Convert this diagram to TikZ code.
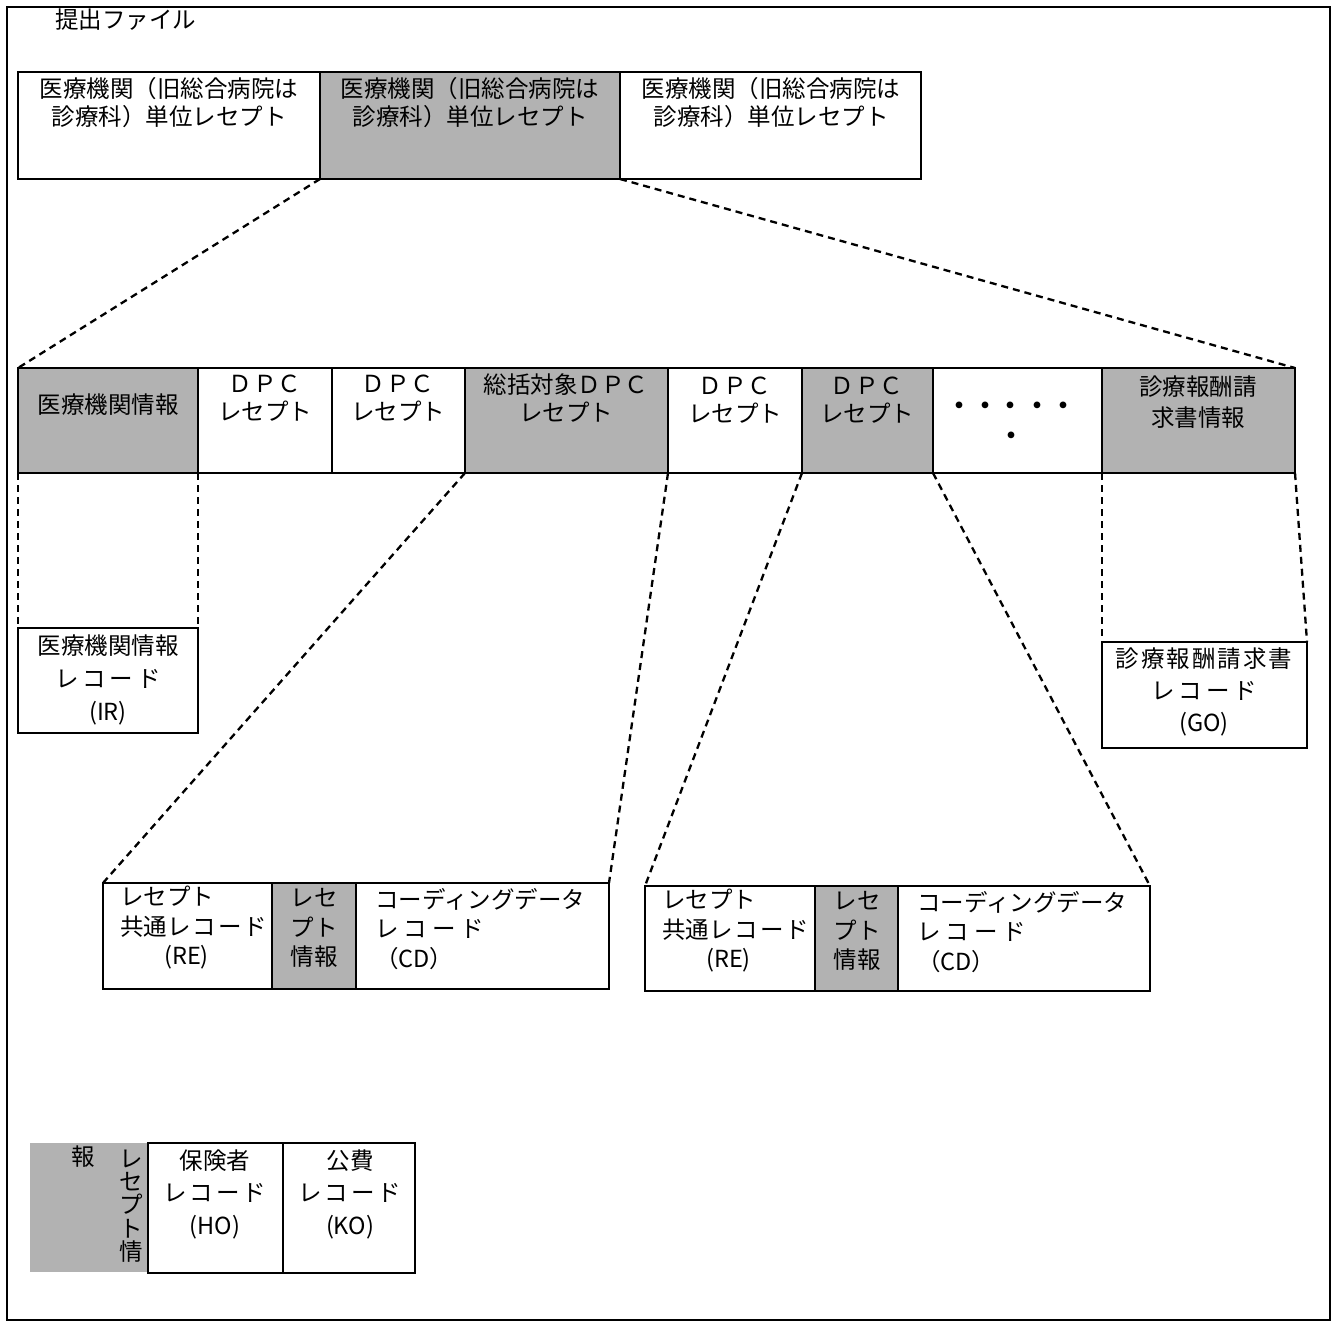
\documentclass[tikz,border=0pt]{standalone}
\usepackage{fontspec}
\newfontfamily\jp{Noto Sans CJK JP}
\definecolor{shade}{gray}{0.70}
\tikzset{
  box/.style={draw, line width=1.7pt, anchor=north west, inner sep=0pt, outer sep=0pt},
  shadebox/.style={box, fill=shade},
  txt/.style={font=\jp\fontsize{23.5}{28}\selectfont, align=center, inner sep=0pt},
  conn/.style={line width=2.3pt, dash pattern=on 7pt off 5pt},
}
\begin{document}
\begin{tikzpicture}[x=1pt,y=-1pt]
\useasboundingbox (0,0) rectangle (1333,1324);
\draw[line width=1.5pt] (7,7) rectangle (1330,1320);

\node[txt, anchor=west] (title) at (55,20) {提出ファイル};

% top row
\node[box, minimum width=302pt, minimum height=107pt] (t1) at (18,72) {};
\node[shadebox, minimum width=300pt, minimum height=107pt] (t2) at (320,72) {};
\node[box, minimum width=301pt, minimum height=107pt] (t3) at (620,72) {};
\node[txt] (tt1) at (169,103) {医療機関（旧総合病院は\\診療科）単位レセプト};
\node[txt] (tt2) at (470,103) {医療機関（旧総合病院は\\診療科）単位レセプト};
\node[txt] (tt3) at (771,103) {医療機関（旧総合病院は\\診療科）単位レセプト};

% second row
\node[shadebox, minimum width=180pt, minimum height=105pt] (r1) at (18,368) {};
\node[box, minimum width=134pt, minimum height=105pt] (r2) at (198,368) {};
\node[box, minimum width=133pt, minimum height=105pt] (r3) at (332,368) {};
\node[shadebox, minimum width=203pt, minimum height=105pt] (r4) at (465,368) {};
\node[box, minimum width=134pt, minimum height=105pt] (r5) at (668,368) {};
\node[shadebox, minimum width=131pt, minimum height=105pt] (r6) at (802,368) {};
\node[box, minimum width=169pt, minimum height=105pt] (r7) at (933,368) {};
\node[shadebox, minimum width=193pt, minimum height=105pt] (r8) at (1102,368) {};

\node[txt] (rt1) at (108,405) {医療機関情報};
\node[txt] (rt2) at (265,398) {Ｄ\kern1ptＰ\kern1ptＣ\\レセプト};
\node[txt] (rt3) at (398,398) {Ｄ\kern1ptＰ\kern1ptＣ\\レセプト};
\node[txt] (rt4) at (566,398) {総括対象ＤＰＣ\\レセプト};
\node[txt] (rt5) at (735,400) {Ｄ\kern1ptＰ\kern1ptＣ\\レセプト};
\node[txt] (rt6) at (867,400) {Ｄ\kern1ptＰ\kern1ptＣ\\レセプト};
\node[txt, font=\jp\bfseries\fontsize{24}{30}\selectfont] (rt7) at (1011,423) {・\kern2pt・\kern2pt・\kern2pt・\kern2pt・\\・};
\node[txt, font=\jp\fontsize{23.5}{31}\selectfont] (rt8) at (1198,402) {診療報酬請\\求書情報};

% record boxes
\node[box, minimum width=180pt, minimum height=105pt] (ir) at (18,628) {};
\node[txt, font=\jp\fontsize{23.5}{33}\selectfont] (irt) at (108,680) {医療機関情報\\レ\kern4ptコ\kern4ptー\kern4ptド\\(IR)};
\node[box, minimum width=205pt, minimum height=106pt] (go) at (1102,642) {};
\node[txt, font=\jp\fontsize{23.5}{32}\selectfont] (got) at (1204,692) {診\kern2pt療\kern2pt報\kern2pt酬\kern2pt請\kern2pt求\kern2pt書\\レ\kern4ptコ\kern4ptー\kern4ptド\\(GO)};

\node[box, minimum width=169pt, minimum height=106pt] (b1a) at (103,883) {};
\node[shadebox, minimum width=84pt, minimum height=106pt] (b1b) at (272,883) {};
\node[box, minimum width=253pt, minimum height=106pt] (b1c) at (356,883) {};
\node[txt, align=left, anchor=west, font=\jp\fontsize{23.5}{29.5}\selectfont] (b1at) at (120,928) {レセプト\\共通レ\kern2ptコ\kern2ptー\kern2ptド\\\hspace{44pt}(RE)};
\node[txt, font=\jp\fontsize{23.5}{29.5}\selectfont] (b1bt) at (314,928) {レセ\\プト\\情報};
\node[txt, align=left, anchor=west, font=\jp\fontsize{23.5}{29.5}\selectfont] (b1ct) at (375,929) {コーディングデータ\\レ\kern5ptコ\kern5ptー\kern5ptド\\（CD）};

\node[box, minimum width=170pt, minimum height=105pt] (b2a) at (645,886) {};
\node[shadebox, minimum width=83pt, minimum height=105pt] (b2b) at (815,886) {};
\node[box, minimum width=252pt, minimum height=105pt] (b2c) at (898,886) {};
\node[txt, align=left, anchor=west, font=\jp\fontsize{23.5}{29.5}\selectfont] (b2at) at (662,931) {レセプト\\共通レ\kern2ptコ\kern2ptー\kern2ptド\\\hspace{44pt}(RE)};
\node[txt, font=\jp\fontsize{23.5}{29.5}\selectfont] (b2bt) at (857,931) {レセ\\プト\\情報};
\node[txt, align=left, anchor=west, font=\jp\fontsize{23.5}{29.5}\selectfont] (b2ct) at (917,932) {コーディングデータ\\レ\kern5ptコ\kern5ptー\kern5ptド\\（CD）};

% bottom legend
\node[anchor=north west, fill=shade, inner sep=0pt, outer sep=0pt, minimum width=118pt, minimum height=129pt] (sh) at (30,1143) {};
\node[box, minimum width=135pt, minimum height=130pt] (ho) at (148,1143) {};
\node[box, minimum width=132pt, minimum height=130pt] (ko) at (283,1143) {};
\node[txt, font=\jp\fontsize{23.5}{23.3}\selectfont] (sht1) at (131,1206) {レ\\セ\\プ\\ト\\情};
\node[txt] (sht2) at (83,1157) {報};
\node[txt, font=\jp\fontsize{23.5}{32.5}\selectfont] (hot) at (215,1194) {保険者\\レ\kern3ptコ\kern3ptー\kern3ptド\\(HO)};
\node[txt, font=\jp\fontsize{23.5}{32.5}\selectfont] (kot) at (350,1194) {公費\\レ\kern3ptコ\kern3ptー\kern3ptド\\(KO)};

% connectors
\draw[conn] (t2.south west) -- (r1.north west);
\draw[conn] (t2.south east) -- (r8.north east);
\draw[conn] (r1.south west) -- (ir.north west);
\draw[conn] (r1.south east) -- (ir.north east);
\draw[conn] (r4.south west) -- (b1a.north west);
\draw[conn] (r4.south east) -- (b1c.north east);
\draw[conn] (r6.south west) -- (b2a.north west);
\draw[conn] (r6.south east) -- (b2c.north east);
\draw[conn] (r8.south west) -- (go.north west);
\draw[conn] (r8.south east) -- (go.north east);
\end{tikzpicture}
\end{document}
